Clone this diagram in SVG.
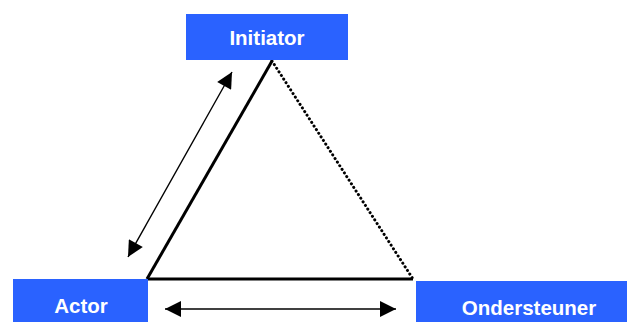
<svg xmlns="http://www.w3.org/2000/svg" width="627" height="322" viewBox="0 0 627 322">
<defs>
<style>
.box{fill:#2A62FF;}
.lbl{font-family:"Liberation Sans",Arial,sans-serif;font-weight:bold;font-size:20.5px;fill:#fff;text-anchor:middle;}
.edge{stroke:#000;stroke-width:3;fill:none;}
.dot{stroke:#000;stroke-width:3;fill:none;stroke-dasharray:0.1 4.2;stroke-linecap:round;}
.arr{stroke:#000;stroke-width:1.4;fill:none;}
</style>
<marker id="ah2" viewBox="0 0 10 10" refX="10" refY="5" markerWidth="18" markerHeight="16" markerUnits="userSpaceOnUse" orient="auto-start-reverse">
<path d="M0,0 L10,5 L0,10 Z" fill="#000"/>
</marker>
</defs>
<rect width="627" height="322" fill="#fff"/>
<g id="connectors">
<line class="edge" x1="147" y1="279" x2="272" y2="61"/>
<line class="edge" x1="147" y1="279" x2="413" y2="279"/>
<line class="dot" x1="272" y1="61" x2="413" y2="279"/>
<line class="arr" x1="128" y1="257" x2="232" y2="72" marker-start="url(#ah2)" marker-end="url(#ah2)"/>
<line class="arr" x1="165" y1="309" x2="396" y2="309" marker-start="url(#ah2)" marker-end="url(#ah2)"/>
</g>
<g id="initiator">
<rect class="box" x="186" y="14" width="162" height="46"/>
<text class="lbl" x="267" y="45">Initiator</text>
</g>
<g id="actor">
<rect class="box" x="13" y="279" width="135" height="43"/>
<text class="lbl" x="81" y="313">Actor</text>
</g>
<g id="ondersteuner">
<rect class="box" x="416" y="281" width="211" height="41"/>
<text class="lbl" x="529" y="315">Ondersteuner</text>
</g>
</svg>
